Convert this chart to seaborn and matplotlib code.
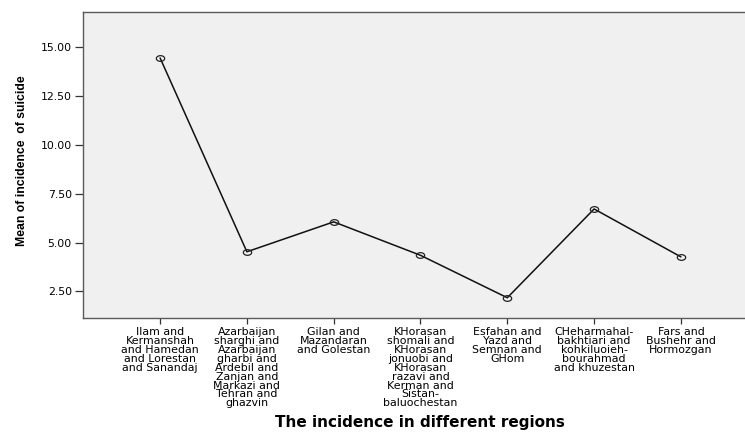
import matplotlib
matplotlib.use("Agg")
import matplotlib.pyplot as plt
from matplotlib.path import Path
import seaborn as sns
import pandas as pd

# ---------------------------------------------------------------------------
# Data
# ---------------------------------------------------------------------------

regions = [
    "Ilam and\nKermanshah\nand Hamedan\nand Lorestan\nand Sanandaj",
    "Azarbaijan\nsharghi and\nAzarbaijan\ngharbi and\nArdebil and\nZanjan and\nMarkazi and\nTehran and\nghazvin",
    "Gilan and\nMazandaran\nand Golestan",
    "KHorasan\nshomali and\nKHorasan\njonuobi and\nKHorasan\nrazavi and\nKerman and\nSistan-\nbaluochestan",
    "Esfahan and\nYazd and\nSemnan and\nGHom",
    "CHeharmahal-\nbakhtiari and\nkohkiluoieh-\nbourahmad\nand khuzestan",
    "Fars and\nBushehr and\nHormozgan",
]
mean_incidence = [14.44, 4.53, 6.06, 4.35, 2.18, 6.72, 4.27]
y_ticks = [2.5, 5.0, 7.5, 10.0, 12.5, 15.0]

df = pd.DataFrame({"pos": range(len(regions)), "mean": mean_incidence})

# ---------------------------------------------------------------------------
# Plot
# ---------------------------------------------------------------------------

sns.set_style("ticks")
plt.rcParams["font.family"] = ["DejaVu Sans"]
plt.rcParams["text.color"] = "black"
plt.rcParams["xtick.color"] = "#333333"
plt.rcParams["ytick.color"] = "#333333"
plt.rcParams["xtick.labelcolor"] = "black"
plt.rcParams["ytick.labelcolor"] = "black"

# the original's circles come out a little squashed
circ = Path.unit_circle()
oval = Path(circ.vertices * [1.0, 0.68], circ.codes)

W, H = 745, 433
fig = plt.figure(figsize=(W / 100, H / 100), dpi=100)
# axes: left 83px, top 12px, bottom 317px, right spine just past the edge
ax = fig.add_axes([83 / W, (H - 317.5) / H, (758 - 83) / W, (317.5 - 12) / H])
ax.set_facecolor("#f0f0f0")

sns.lineplot(data=df, x="pos", y="mean", ax=ax, color="#111111", lw=1.1,
             marker=oval, markersize=6, markerfacecolor="none",
             markeredgecolor="#222222", markeredgewidth=0.9)

pad = 77 / 86.7
ax.set_xlim(-pad, len(regions) - 1 + pad)
ax.set_ylim(1.17, 16.79)

ax.set_xticks(range(len(regions)))
ax.set_xticklabels(regions, fontsize=7.9, linespacing=0.86, va="top")
ax.set_yticks(y_ticks)
ax.set_yticklabels([f"{v:.2f}" for v in y_ticks], fontsize=7.8)
ax.tick_params(axis="y", length=6, width=0.9, pad=2)
ax.tick_params(axis="x", length=4, width=0.9, pad=3)

for s in ax.spines.values():
    s.set_color("#5a5a5a")
    s.set_linewidth(1.0)

ax.set_xlabel("")
ax.set_ylabel("")
fig.text(22 / W, 1 - 160.5 / H, "Mean of incidence  of suicide", rotation=90,
         ha="center", va="center", fontsize=8.8, fontweight="bold",
         family=["Liberation Sans Narrow", "Liberation Sans", "DejaVu Sans"])
fig.text(420 / W, 1 - 423 / H, "The incidence in different regions",
         ha="center", va="center", fontsize=11, fontweight="bold",
         family=["DejaVu Sans"])

fig.savefig("out.png", dpi=100)
